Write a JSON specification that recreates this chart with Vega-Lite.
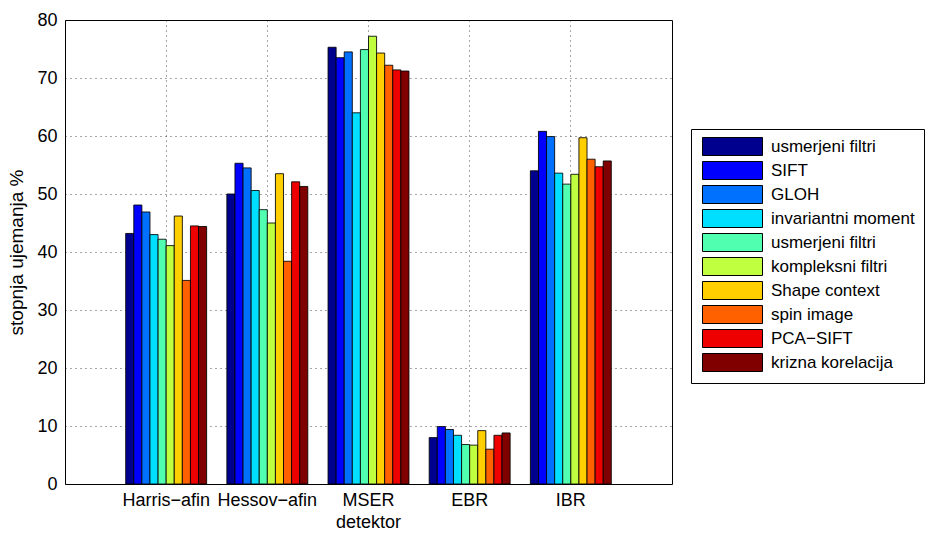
{
  "$schema": "https://vega.github.io/schema/vega-lite/v6.json",
  "autosize": {"type": "none"},
  "padding": {"left": 65, "top": 20, "right": 264, "bottom": 51},
  "width": 607,
  "height": 464,
  "config": {
    "font": "Liberation Sans",
    "view": {"stroke": "black", "strokeWidth": 1}
  },
  "data": {
    "values": [
      {"g": "Harris−afin", "s": "usmerjeni filtri", "v": 43.2},
      {"g": "Harris−afin", "s": "SIFT", "v": 48.1},
      {"g": "Harris−afin", "s": "GLOH", "v": 46.9},
      {"g": "Harris−afin", "s": "invariantni moment", "v": 43.0},
      {"g": "Harris−afin", "s": "usmerjeni filtri ", "v": 42.2},
      {"g": "Harris−afin", "s": "kompleksni filtri", "v": 41.1},
      {"g": "Harris−afin", "s": "Shape context", "v": 46.2},
      {"g": "Harris−afin", "s": "spin image", "v": 35.1},
      {"g": "Harris−afin", "s": "PCA−SIFT", "v": 44.5},
      {"g": "Harris−afin", "s": "krizna korelacija", "v": 44.4},
      {"g": "Hessov−afin", "s": "usmerjeni filtri", "v": 50.0},
      {"g": "Hessov−afin", "s": "SIFT", "v": 55.3},
      {"g": "Hessov−afin", "s": "GLOH", "v": 54.5},
      {"g": "Hessov−afin", "s": "invariantni moment", "v": 50.6},
      {"g": "Hessov−afin", "s": "usmerjeni filtri ", "v": 47.3},
      {"g": "Hessov−afin", "s": "kompleksni filtri", "v": 45.0},
      {"g": "Hessov−afin", "s": "Shape context", "v": 53.5},
      {"g": "Hessov−afin", "s": "spin image", "v": 38.4},
      {"g": "Hessov−afin", "s": "PCA−SIFT", "v": 52.1},
      {"g": "Hessov−afin", "s": "krizna korelacija", "v": 51.3},
      {"g": "MSER detektor", "s": "usmerjeni filtri", "v": 75.3},
      {"g": "MSER detektor", "s": "SIFT", "v": 73.5},
      {"g": "MSER detektor", "s": "GLOH", "v": 74.5},
      {"g": "MSER detektor", "s": "invariantni moment", "v": 64.0},
      {"g": "MSER detektor", "s": "usmerjeni filtri ", "v": 74.9},
      {"g": "MSER detektor", "s": "kompleksni filtri", "v": 77.2},
      {"g": "MSER detektor", "s": "Shape context", "v": 74.3},
      {"g": "MSER detektor", "s": "spin image", "v": 72.2},
      {"g": "MSER detektor", "s": "PCA−SIFT", "v": 71.4},
      {"g": "MSER detektor", "s": "krizna korelacija", "v": 71.2},
      {"g": "EBR", "s": "usmerjeni filtri", "v": 8.0},
      {"g": "EBR", "s": "SIFT", "v": 9.9},
      {"g": "EBR", "s": "GLOH", "v": 9.4},
      {"g": "EBR", "s": "invariantni moment", "v": 8.4},
      {"g": "EBR", "s": "usmerjeni filtri ", "v": 6.8},
      {"g": "EBR", "s": "kompleksni filtri", "v": 6.7},
      {"g": "EBR", "s": "Shape context", "v": 9.2},
      {"g": "EBR", "s": "spin image", "v": 6.0},
      {"g": "EBR", "s": "PCA−SIFT", "v": 8.4},
      {"g": "EBR", "s": "krizna korelacija", "v": 8.8},
      {"g": "IBR", "s": "usmerjeni filtri", "v": 54.0},
      {"g": "IBR", "s": "SIFT", "v": 60.8},
      {"g": "IBR", "s": "GLOH", "v": 59.9},
      {"g": "IBR", "s": "invariantni moment", "v": 53.6},
      {"g": "IBR", "s": "usmerjeni filtri ", "v": 51.7},
      {"g": "IBR", "s": "kompleksni filtri", "v": 53.4},
      {"g": "IBR", "s": "Shape context", "v": 59.7},
      {"g": "IBR", "s": "spin image", "v": 56.0},
      {"g": "IBR", "s": "PCA−SIFT", "v": 54.7},
      {"g": "IBR", "s": "krizna korelacija", "v": 55.7}
    ]
  },
  "mark": {"type": "bar", "stroke": "black", "strokeWidth": 1, "strokeOpacity": 0.85},
  "encoding": {
    "x": {
      "field": "g",
      "type": "nominal",
      "sort": null,
      "scale": {"paddingInner": 0.2, "paddingOuter": 0.6},
      "axis": {
        "title": null,
        "labelAngle": 0,
        "labelFontSize": 18,
        "labelColor": "black",
        "labelPadding": 7,
        "labelExpr": "datum.label == 'MSER detektor' ? ['MSER', 'detektor'] : datum.label",
        "labelLineHeight": 22,
        "ticks": false,
        "domain": false,
        "grid": true,
        "bandPosition": 0.5,
        "gridColor": "black",
        "gridDash": [1, 4],
        "gridOpacity": 0.7
      }
    },
    "xOffset": {
      "field": "s",
      "type": "nominal",
      "sort": null,
      "scale": {"paddingInner": 0, "paddingOuter": 0}
    },
    "y": {
      "field": "v",
      "type": "quantitative",
      "scale": {"domain": [0, 80], "nice": false},
      "axis": {
        "title": "stopnja ujemanja %",
        "titleFontSize": 19,
        "titleFontWeight": "normal",
        "titleColor": "black",
        "titlePadding": 10,
        "values": [0, 10, 20, 30, 40, 50, 60, 70, 80],
        "labelFontSize": 18,
        "labelColor": "black",
        "labelPadding": 8,
        "ticks": false,
        "domain": false,
        "grid": true,
        "gridColor": "black",
        "gridDash": [1, 4],
        "gridOpacity": 0.7
      }
    },
    "color": {
      "field": "s",
      "type": "nominal",
      "scale": {
        "domain": ["usmerjeni filtri", "SIFT", "GLOH", "invariantni moment", "usmerjeni filtri ", "kompleksni filtri", "Shape context", "spin image", "PCA−SIFT", "krizna korelacija"],
        "range": ["#00008F", "#0000FF", "#0070FF", "#00DFFF", "#50FFAF", "#BFFF40", "#FFCF00", "#FF6000", "#EF0000", "#800000"]
      },
      "legend": {
        "title": null,
        "orient": "none",
        "legendX": 626,
        "legendY": 109,
        "strokeColor": "black",
        "fillColor": "white",
        "padding": 9,
        "symbolType": "M-1,-1.5H9V1.5H-1Z",
        "symbolSize": 144,
        "symbolStrokeColor": "black",
        "symbolStrokeWidth": 1,
        "symbolOpacity": 1,
        "labelFontSize": 17,
        "labelColor": "black",
        "labelOffset": 54,
        "labelLimit": 300,
        "rowPadding": 1
      }
    }
  }
}
